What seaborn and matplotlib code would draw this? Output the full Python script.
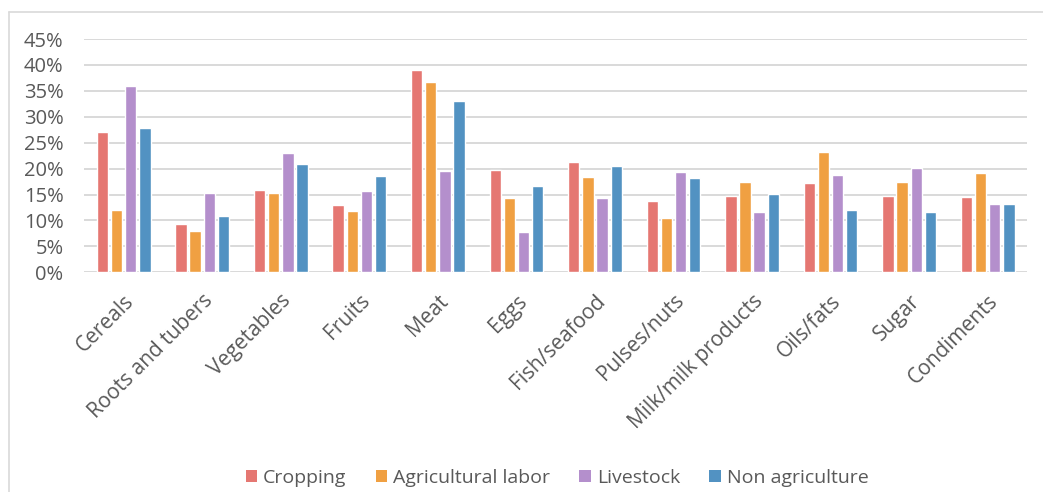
import matplotlib
matplotlib.use("Agg")
import matplotlib.pyplot as plt
import matplotlib.lines as mlines
from matplotlib.patches import Patch
from matplotlib.ticker import PercentFormatter, MultipleLocator
import pandas as pd
import seaborn as sns

categories = ["Cereals", "Roots and tubers", "Vegetables", "Fruits", "Meat", "Eggs",
              "Fish/seafood", "Pulses/nuts", "Milk/milk products", "Oils/fats",
              "Sugar", "Condiments"]
groups = ["Cropping", "Agricultural labor", "Livestock", "Non agriculture"]

cropping = [27.1, 9.4, 15.8, 12.9, 39.1, 19.8, 21.2, 13.8, 14.7, 17.3, 14.7, 14.6]
agri_labor = [12.0, 8.0, 15.2, 11.9, 36.7, 14.3, 18.3, 10.4, 17.5, 23.2, 17.5, 19.1]
livestock = [36.0, 15.2, 23.0, 15.6, 19.5, 7.8, 14.3, 19.3, 11.6, 18.7, 20.1, 13.2]
non_agri = [27.8, 10.9, 20.9, 18.5, 33.0, 16.6, 20.6, 18.2, 15.1, 12.0, 11.6, 13.1]

colors = ["#E57772", "#F0A042", "#B48FCC", "#5292C2"]
text_color = "#595959"
grid_color = "#D9D9D9"

series = {"Cropping": cropping, "Agricultural labor": agri_labor,
          "Livestock": livestock, "Non agriculture": non_agri}
rows = []
for g in groups:
    for c, v in zip(categories, series[g]):
        rows.append({"category": c, "group": g, "share": v / 100.0})
df = pd.DataFrame(rows)

sns.set_theme(style="white")
plt.rcParams["font.family"] = ["Open Sans", "DejaVu Sans"]

W, H = 1043, 492
fig = plt.figure(figsize=(W / 100, H / 100), dpi=100)
ax = fig.add_axes([84.4 / W, 1 - 272.3 / H, (1027 - 84.4) / W, (272.3 - 39) / H])

sns.barplot(data=df, x="category", y="share", hue="group", order=categories,
            hue_order=groups, palette=colors, width=0.72, gap=0.2,
            saturation=1, ax=ax, legend=False)

ax.set_ylim(0, 0.45)
ax.set_xlim(-0.5, len(categories) - 0.5)
ax.yaxis.set_major_locator(MultipleLocator(0.05))
ax.yaxis.set_major_formatter(PercentFormatter(1.0, decimals=0))
ax.grid(axis="y", color=grid_color, linewidth=1.4)
ax.set_axisbelow(True)
for s in ax.spines.values():
    s.set_visible(False)
ax.set_xlabel("")
ax.set_ylabel("")
ax.tick_params(axis="y", length=0, pad=15, labelsize=14.5, labelcolor=text_color)
ax.tick_params(axis="x", length=0, pad=13, labelsize=15, labelcolor=text_color)
plt.setp(ax.get_xticklabels(), rotation=45, ha="right", rotation_mode="anchor")

# chart border (top and left edges)
fig.add_artist(mlines.Line2D([8.5 / W, 1.0], [1 - 12 / H, 1 - 12 / H],
                             color=grid_color, linewidth=1.2, transform=fig.transFigure))
fig.add_artist(mlines.Line2D([8.5 / W, 8.5 / W], [0, 1 - 12 / H],
                             color=grid_color, linewidth=1.2, transform=fig.transFigure))

handles = [Patch(facecolor=c, edgecolor="none", label=g) for c, g in zip(colors, groups)]
leg = fig.legend(handles=handles, loc="center", bbox_to_anchor=(557 / W, 1 - 478 / H),
                 ncol=4, frameon=False, fontsize=14, handlelength=0.6,
                 handleheight=0.6, handletextpad=0.3, columnspacing=1.5)
for t in leg.get_texts():
    t.set_color(text_color)

fig.savefig("out.png", dpi=100)
